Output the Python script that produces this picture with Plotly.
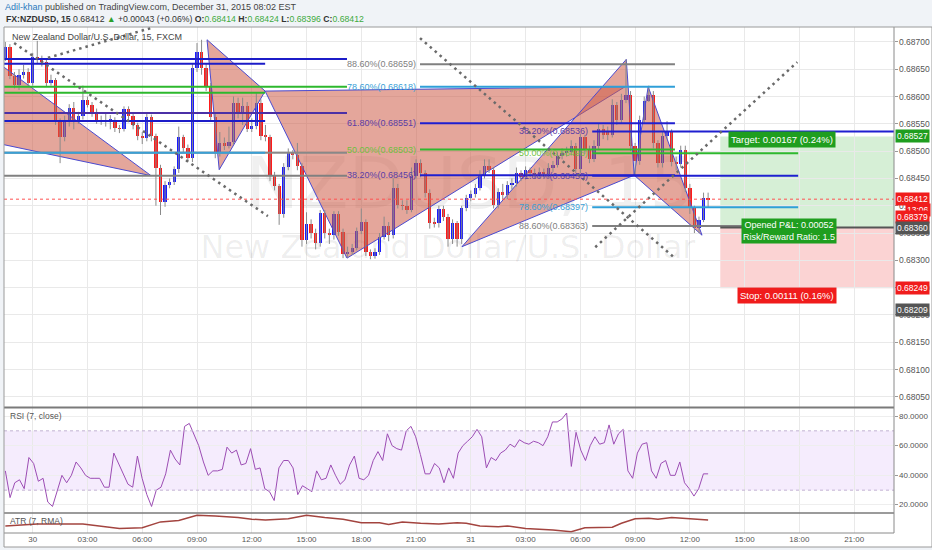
import plotly.graph_objects as go
import pandas as pd

# ---------------- data ----------------
open_ = [0.68671,0.68691,0.68638,0.68621,0.68640,0.68645,0.68625,0.68672,0.68667,0.68663,
         0.68625,0.68630,0.68555,0.68526,0.68555,0.68579,0.68555,0.68564,0.68594,0.68585,
         0.68570,0.68557,0.68555,0.68557,0.68557,0.68542,0.68541,0.68577,0.68564,0.68548,
         0.68528,0.68524,0.68563,0.68528,0.68469,0.68407,0.68438,0.68444,0.68467,0.68526,
         0.68506,0.68487,0.68652,0.68682,0.68652,0.68618,0.68563,0.68498,0.68515,0.68509,
         0.68517,0.68588,0.68570,0.68583,0.68541,0.68546,0.68588,0.68528,0.68526,0.68455,
         0.68436,0.68385,0.68471,0.68497,0.68493,0.68473,0.68337,0.68367,0.68350,0.68332,
         0.68387,0.68350,0.68346,0.68385,0.68352,0.68312,0.68315,0.68323,0.68354,0.68370,
         0.68315,0.68308,0.68315,0.68343,0.68363,0.68346,0.68433,0.68401,0.68400,0.68392,
         0.68455,0.68478,0.68460,0.68423,0.68370,0.68368,0.68394,0.68379,0.68339,0.68368,
         0.68339,0.68396,0.68414,0.68422,0.68433,0.68456,0.68473,0.68466,0.68401,0.68425,
         0.68420,0.68438,0.68442,0.68460,0.68453,0.68466,0.68460,0.68456,0.68462,0.68458,
         0.68469,0.68475,0.68491,0.68497,0.68499,0.68509,0.68467,0.68526,0.68504,0.68486,
         0.68509,0.68541,0.68535,0.68530,0.68585,0.68557,0.68594,0.68603,0.68509,0.68482,
         0.68557,0.68592,0.68603,0.68515,0.68478,0.68528,0.68535,0.68480,0.68476,0.68502,
         0.68433,0.68396,0.68359,0.68374,0.68414]
close = [0.68691,0.68638,0.68621,0.68640,0.68645,0.68625,0.68672,0.68667,0.68663,0.68625,
         0.68630,0.68555,0.68526,0.68555,0.68579,0.68555,0.68564,0.68594,0.68585,0.68570,
         0.68557,0.68555,0.68557,0.68557,0.68542,0.68541,0.68577,0.68564,0.68548,0.68528,
         0.68524,0.68563,0.68528,0.68469,0.68407,0.68438,0.68444,0.68467,0.68526,0.68506,
         0.68487,0.68652,0.68682,0.68652,0.68618,0.68563,0.68498,0.68515,0.68509,0.68517,
         0.68588,0.68570,0.68583,0.68541,0.68546,0.68588,0.68528,0.68526,0.68455,0.68436,
         0.68385,0.68471,0.68497,0.68493,0.68473,0.68337,0.68367,0.68350,0.68332,0.68387,
         0.68350,0.68346,0.68385,0.68352,0.68312,0.68315,0.68323,0.68354,0.68370,0.68315,
         0.68308,0.68315,0.68343,0.68363,0.68346,0.68433,0.68401,0.68400,0.68392,0.68455,
         0.68478,0.68460,0.68423,0.68368,0.68368,0.68394,0.68379,0.68339,0.68368,0.68339,
         0.68396,0.68414,0.68422,0.68433,0.68456,0.68473,0.68466,0.68401,0.68425,0.68420,
         0.68438,0.68442,0.68460,0.68453,0.68466,0.68460,0.68456,0.68462,0.68458,0.68469,
         0.68475,0.68491,0.68497,0.68499,0.68509,0.68467,0.68526,0.68504,0.68486,0.68509,
         0.68541,0.68530,0.68530,0.68585,0.68557,0.68594,0.68603,0.68509,0.68482,0.68557,
         0.68592,0.68603,0.68515,0.68478,0.68528,0.68535,0.68480,0.68476,0.68502,0.68433,
         0.68396,0.68359,0.68374,0.68414,0.68412]
high = [0.68700,0.68696,0.68645,0.68650,0.68658,0.68652,0.68680,0.68702,0.68675,0.68668,
        0.68640,0.68634,0.68560,0.68565,0.68586,0.68590,0.68572,0.68620,0.68600,0.68590,
        0.68578,0.68565,0.68570,0.68566,0.68562,0.68548,0.68582,0.68582,0.68568,0.68552,
        0.68535,0.68568,0.68567,0.68532,0.68475,0.68445,0.68450,0.68472,0.68545,0.68530,
        0.68512,0.68660,0.68698,0.68704,0.68660,0.68625,0.68570,0.68535,0.68525,0.68545,
        0.68600,0.68598,0.68598,0.68590,0.68560,0.68606,0.68595,0.68548,0.68530,0.68462,
        0.68440,0.68478,0.68505,0.68502,0.68515,0.68478,0.68388,0.68375,0.68358,0.68392,
        0.68392,0.68358,0.68390,0.68390,0.68358,0.68325,0.68330,0.68360,0.68395,0.68375,
        0.68320,0.68322,0.68350,0.68380,0.68370,0.68450,0.68440,0.68410,0.68410,0.68470,
        0.68485,0.68485,0.68465,0.68430,0.68378,0.68400,0.68400,0.68385,0.68375,0.68372,
        0.68400,0.68420,0.68428,0.68440,0.68465,0.68485,0.68485,0.68470,0.68432,0.68440,
        0.68445,0.68450,0.68470,0.68465,0.68472,0.68470,0.68468,0.68470,0.68468,0.68478,
        0.68482,0.68498,0.68505,0.68508,0.68520,0.68515,0.68532,0.68530,0.68510,0.68520,
        0.68550,0.68548,0.68545,0.68595,0.68590,0.68605,0.68668,0.68610,0.68515,0.68565,
        0.68600,0.68620,0.68610,0.68520,0.68535,0.68555,0.68540,0.68490,0.68510,0.68510,
        0.68440,0.68400,0.68380,0.68424,0.68424]
low = [0.68665,0.68632,0.68615,0.68612,0.68633,0.68618,0.68620,0.68660,0.68655,0.68618,
       0.68620,0.68548,0.68478,0.68518,0.68545,0.68540,0.68550,0.68558,0.68580,0.68563,
       0.68550,0.68548,0.68545,0.68540,0.68535,0.68533,0.68536,0.68556,0.68540,0.68520,
       0.68513,0.68518,0.68518,0.68400,0.68383,0.68398,0.68432,0.68438,0.68460,0.68498,
       0.68480,0.68480,0.68645,0.68640,0.68610,0.68555,0.68487,0.68490,0.68502,0.68505,
       0.68512,0.68560,0.68548,0.68535,0.68535,0.68540,0.68520,0.68518,0.68445,0.68428,
       0.68365,0.68378,0.68465,0.68485,0.68465,0.68325,0.68330,0.68340,0.68320,0.68325,
       0.68340,0.68330,0.68338,0.68345,0.68304,0.68305,0.68310,0.68318,0.68348,0.68308,
       0.68302,0.68303,0.68310,0.68338,0.68335,0.68340,0.68395,0.68392,0.68385,0.68388,
       0.68450,0.68452,0.68415,0.68358,0.68360,0.68360,0.68372,0.68325,0.68330,0.68325,
       0.68330,0.68390,0.68408,0.68415,0.68428,0.68450,0.68460,0.68395,0.68395,0.68412,
       0.68412,0.68430,0.68435,0.68445,0.68448,0.68452,0.68450,0.68450,0.68450,0.68452,
       0.68462,0.68470,0.68485,0.68490,0.68492,0.68460,0.68460,0.68495,0.68478,0.68480,
       0.68502,0.68522,0.68520,0.68525,0.68548,0.68550,0.68588,0.68500,0.68455,0.68475,
       0.68550,0.68590,0.68505,0.68470,0.68470,0.68522,0.68472,0.68465,0.68470,0.68425,
       0.68385,0.68350,0.68350,0.68370,0.68396]
first_bar = "2015-12-29 22:30"

rsi = [43,25,35,37,31,52,48,36,38,22,19,30,40,35,40,49,45,40,38,38,38,32,32,55,48,40,34,32,
       53,38,27,19,30,32,41,57,51,47,73,75,68,60,49,40,43,43,44,59,55,57,47,48,58,44,45,31,
       29,23,45,50,50,45,27,33,31,29,43,37,38,47,40,34,37,47,53,38,37,40,50,56,50,68,60,58,
       57,70,73,66,54,41,41,48,45,35,45,38,55,60,63,66,71,66,45,52,50,55,57,61,59,64,62,61,
       63,62,60,66,76,76,78,82,46,69,57,50,60,66,61,62,74,61,68,71,43,38,55,61,62,43,38,48,
       50,40,40,49,35,31,26,31,41,41]

atr_idx = [0,7,17,25,30,34,38,42,46,51,54,57,62,66,70,74,78,82,84,87,
           91,95,99,101,104,108,110,114,120,124,127,133,135,138,141,143,146,149,151,154]
atr_val = [0.00036,0.00040,0.00040,0.00030,0.00032,0.00045,0.00048,0.00060,0.00058,0.00055,
           0.00051,0.00049,0.00052,0.00060,0.00055,0.00051,0.00043,0.00043,0.00039,0.00045,
           0.00042,0.00040,0.00043,0.00042,0.00036,0.00034,0.00036,0.00030,0.00027,0.00023,
           0.00032,0.00033,0.00042,0.00052,0.00053,0.00051,0.00055,0.00053,0.00052,0.00049]

tick_times = ["2015-12-30 00:00","2015-12-30 03:00","2015-12-30 06:00","2015-12-30 09:00",
              "2015-12-30 12:00","2015-12-30 15:00","2015-12-30 18:00","2015-12-30 21:00",
              "2015-12-31 00:00","2015-12-31 03:00","2015-12-31 06:00","2015-12-31 09:00",
              "2015-12-31 12:00","2015-12-31 15:00","2015-12-31 18:00","2015-12-31 21:00"]
tick_text = ["30","03:00","06:00","09:00","12:00","15:00","18:00","21:00",
             "31","03:00","06:00","09:00","12:00","15:00","18:00","21:00"]
price_ticks = [0.6805,0.6810,0.6815,0.6820,0.6825,0.6830,0.6835,0.6840,0.6845,0.6850,
               0.6855,0.6860,0.6865,0.6870]
rsi_ticks = [20,40,60,80]

# harmonic patterns (time, price) of X, A, B, C, D
p0_t = ["2015-12-29 21:07","2015-12-30 06:29","2015-12-29 21:07"]
p0_p = [0.68686,0.68455,0.68521]
p1_t = ["2015-12-30 09:33","2015-12-30 10:13","2015-12-30 12:44","2015-12-30 17:13","2015-12-31 08:27"]
p1_p = [0.68704,0.68466,0.68610,0.68304,0.68618]
p2_t = ["2015-12-30 23:31","2015-12-31 08:31","2015-12-31 08:57","2015-12-31 09:43","2015-12-31 12:40"]
p2_p = [0.68325,0.68668,0.68456,0.68618,0.68346]

# dotted trend lines
dotted_lines = [
    (["2015-12-29 22:59","2015-12-30 12:53"],[0.68698,0.68381]),
    (["2015-12-30 00:50","2015-12-30 06:32"],[0.68671,0.68726]),
    (["2015-12-30 21:13","2015-12-31 11:11"],[0.68707,0.68304]),
    (["2015-12-31 06:49","2015-12-31 17:53"],[0.68324,0.68663]),
]

# horizontal segments on the left
left_end_1 = "2015-12-30 17:13"
left_prices_1 = [0.68669,0.68618,0.68570,0.68497,0.68455]
left_colors_1 = ["#1c1cc8","#2db82d","#4b30a6","#888888","#808080"]
left_end_2 = "2015-12-30 12:44"
left_prices_2 = [0.68660,0.68607,0.68555,0.68497]
left_colors_2 = ["#1c1cc8","#2db82d","#1c1cc8","#39a0d6"]

fib_mid_span = ["2015-12-30 21:13","2015-12-31 11:11"]
fib_mid_levels = ["88.60%","78.60%","61.80%","50.00%","38.20%"]
fib_mid_prices = [0.68659,0.68618,0.68551,0.68503,0.68456]
fib_right_span = ["2015-12-31 06:39","2015-12-31 17:56"]
fib_right_levels = ["38.20%","50.00%","61.80%","78.60%","88.60%"]
fib_right_prices = [0.68536,0.68496,0.68455,0.68397,0.68363]
line_col = {"88.60%":"#808080","78.60%":"#2f9fd8","61.80%":"#1f1fd0","50.00%":"#2fb82f","38.20%":"#1f1fd0"}
text_col = {"88.60%":"#808080","78.60%":"#3a9fd6","61.80%":"#5a3da6","50.00%":"#6fbf3f","38.20%":"#5a3da6"}

current_price = 0.68412
pos_start = "2015-12-31 13:40"
entry, target, stop = 0.68360, 0.68527, 0.68249

x_range = ["2015-12-29 22:25:36","2015-12-31 23:11:00"]

# ---------------- layout helpers (pixel -> paper) ----------------
W, H = 932, 550
L, R, T, B = 4, 38, 27, 17
PW, PH = W - L - R, H - T - B
def px(x): return (x - L) / PW
def py(y): return (H - B - y) / PH

times = pd.date_range(first_bar, periods=len(close), freq="15min")
FONT = "Liberation Sans"

fig = go.Figure()

# watermark (behind everything)
fig.add_trace(go.Scatter(x=[pd.Timestamp("2015-12-30 23:58")], y=[0.68429], mode="text",
                         text=["NZDUSD, 15"], textfont=dict(size=72, family="DejaVu Sans", color="rgba(0,0,0,0.06)"),
                         hoverinfo="skip"))
fig.add_trace(go.Scatter(x=[pd.Timestamp("2015-12-30 22:45")], y=[0.68319], mode="text",
                         text=["New Zealand Dollar/U.S. Dollar"], textfont=dict(size=32, family="DejaVu Sans", color="rgba(0,0,0,0.07)"),
                         hoverinfo="skip"))

# harmonic pattern triangles
FILL = "rgba(205,92,72,0.55)"
EDGE = "#4a4ad0"
def tri(ts, ps):
    fig.add_trace(go.Scatter(x=list(ts) + [ts[0]], y=list(ps) + [ps[0]], mode="lines", fill="toself",
                             fillcolor=FILL, line=dict(color=EDGE, width=1), hoverinfo="skip"))
tri(p0_t, p0_p)
for pt, pp in ((p1_t, p1_p), (p2_t, p2_p)):
    tri(pt[0:3], pp[0:3])
    tri(pt[2:5], pp[2:5])

# candles: wicks then bodies
wx, wy = [], []
for t, h, l in zip(times, high, low):
    wx += [t, t, None]
    wy += [l, h, None]
fig.add_trace(go.Scatter(x=wx, y=wy, mode="lines", line=dict(color="#8a8a8a", width=1), hoverinfo="skip"))
bases = [min(o, c) for o, c in zip(open_, close)]
heights = [max(abs(c - o), 0.000007) for o, c in zip(open_, close)]
colors = ["#1a1aff" if c >= o else "#ff1a1a" for o, c in zip(open_, close)]
fig.add_trace(go.Bar(x=times, y=heights, base=bases, width=650000, marker=dict(color=colors, line=dict(width=0)),
                     hoverinfo="skip"))

# left horizontal segments
for p, c in zip(left_prices_1, left_colors_1):
    fig.add_trace(go.Scatter(x=["2015-12-29 20:00", left_end_1], y=[p, p], mode="lines",
                             line=dict(color=c, width=2), hoverinfo="skip"))
for p, c in zip(left_prices_2, left_colors_2):
    fig.add_trace(go.Scatter(x=["2015-12-29 20:00", left_end_2], y=[p, p], mode="lines",
                             line=dict(color=c, width=2), hoverinfo="skip"))

# fib retracement sets
annotations = []
for span, levels, prices in ((fib_mid_span, fib_mid_levels, fib_mid_prices),
                             (fib_right_span, fib_right_levels, fib_right_prices)):
    for lv, p in zip(levels, prices):
        x1 = span[1]
        if span is fib_right_span and lv == "38.20%":
            x1 = x_range[1]
        fig.add_trace(go.Scatter(x=[span[0], x1], y=[p, p], mode="lines",
                                 line=dict(color=line_col[lv], width=2), hoverinfo="skip"))
        annotations.append(dict(x=span[0], y=p, xref="x", yref="y", text=f"{lv}({p:.5f})",
                                showarrow=False, xanchor="right", yanchor="middle", xshift=-2,
                                font=dict(size=9, family=FONT, color=text_col[lv])))

# entry line of the long position
fig.add_trace(go.Scatter(x=[pos_start, x_range[1]], y=[entry, entry], mode="lines",
                         line=dict(color="#555555", width=2), hoverinfo="skip"))

# dotted trend lines
for xs, ys in dotted_lines:
    fig.add_trace(go.Scatter(x=xs, y=ys, mode="lines",
                             line=dict(color="#6a6a6a", width=2.5, dash="2.5px,4px"), hoverinfo="skip"))

# RSI pane
rsi_times = pd.date_range(times[0], times[-1], periods=len(rsi))
fig.add_trace(go.Scatter(x=rsi_times, y=rsi, xaxis="x2", yaxis="y2", mode="lines",
                         line=dict(color="#9c4db4", width=1), hoverinfo="skip"))
# ATR pane
fig.add_trace(go.Scatter(x=[times[i] for i in atr_idx], y=atr_val, xaxis="x3", yaxis="y3", mode="lines",
                         line=dict(color="#a3443f", width=1.5), hoverinfo="skip"))

shapes = [
    dict(type="rect", xref="paper", yref="paper", x0=px(4), x1=px(932), y0=py(547), y1=1,
         fillcolor="white", line=dict(width=0), layer="below"),
    dict(type="rect", xref="paper", yref="y2", x0=0, x1=1, y0=30, y1=70,
         fillcolor="rgba(175,110,240,0.13)", line=dict(width=0), layer="below"),
    dict(type="line", xref="paper", yref="y2", x0=0, x1=1, y0=70, y1=70,
         line=dict(color="#c2b2d2", width=1, dash="dot")),
    dict(type="line", xref="paper", yref="y2", x0=0, x1=1, y0=30, y1=30,
         line=dict(color="#c2b2d2", width=1, dash="dot")),
    dict(type="rect", xref="x", yref="y", x0=pos_start, x1=x_range[1], y0=entry, y1=target,
         fillcolor="#d6efd6", line=dict(width=0), layer="below"),
    dict(type="rect", xref="x", yref="y", x0=pos_start, x1=x_range[1], y0=stop, y1=entry,
         fillcolor="#fbd3d3", line=dict(width=0), layer="below"),
    dict(type="line", xref="paper", yref="y", x0=0, x1=1, y0=current_price, y1=current_price,
         line=dict(color="#ff5050", width=1, dash="dot")),
    # pane frames
    dict(type="line", xref="paper", yref="paper", x0=0, x1=1, y0=py(407.5), y1=py(407.5),
         line=dict(color="#7a7a7a", width=2)),
    dict(type="line", xref="paper", yref="paper", x0=0, x1=1, y0=py(513), y1=py(513),
         line=dict(color="#7a7a7a", width=1.5)),
    dict(type="line", xref="paper", yref="paper", x0=0, x1=1, y0=0, y1=0,
         line=dict(color="#8a8a8a", width=1)),
    dict(type="line", xref="paper", yref="paper", x0=1, x1=1, y0=0, y1=1,
         line=dict(color="#8a8a8a", width=1)),
    dict(type="rect", xref="paper", yref="paper", x0=0, x1=px(932), y0=py(547), y1=1,
         line=dict(color="#9a9a9a", width=1)),
]

AX = dict(size=8.5, family=FONT, color="#555")
# price axis labels
for v in price_ticks:
    annotations.append(dict(xref="paper", yref="y", x=1, y=v, text=f"{v:.5f}", showarrow=False,
                            xanchor="left", xshift=3, font=AX))
for v in rsi_ticks:
    annotations.append(dict(xref="paper", yref="y2", x=1, y=v, text=f"{v:.4f}", showarrow=False,
                            xanchor="left", xshift=3, font=dict(size=8, family=FONT, color="#555")))

# long position labels
annotations += [
    dict(xref="paper", yref="paper", x=px(836), y=py(131), text="Target: 0.00167 (0.24%)", showarrow=False,
         bgcolor="#1f9e1f", borderpad=2, font=dict(size=9.5, family=FONT, color="white")),
    dict(xref="paper", yref="paper", x=px(837), y=py(231), text="Opened P&L: 0.00052<br>Risk/Reward Ratio: 1.5",
         showarrow=False, bgcolor="#1f9e1f", borderpad=1, font=dict(size=9, family=FONT, color="white")),
    dict(xref="paper", yref="paper", x=px(837), y=py(295), text="Stop: 0.00111 (0.16%)", showarrow=False,
         bgcolor="#f01c1c", borderpad=2, font=dict(size=9.5, family=FONT, color="white")),
]
# price tags on the right axis
tags = [(0.68527, "0.68527", "#1f9e1f"), (0.68412, "0.68412", "#f01c1c"), (0.68392, "13:06", "#f01c1c"),
        (0.68379, "0.68379", "#f01c1c"), (0.68360, "0.68360", "#555555"), (0.68249, "0.68249", "#f01c1c"),
        (0.68209, "0.68209", "#555555")]
for yv, txt, col in tags:
    if txt == "13:06":
        annotations.append(dict(xref="paper", yref="y", x=px(931), y=yv, text=txt, showarrow=False,
                                xanchor="right", bgcolor=col, borderpad=1,
                                font=dict(size=8.5, family=FONT, color="white")))
    else:
        annotations.append(dict(xref="paper", yref="y", x=1, y=yv, text=txt, showarrow=False,
                                xanchor="left", xshift=1, bgcolor=col, borderpad=1,
                                font=dict(size=8.5, family=FONT, color="white")))

# header + titles
annotations += [
    dict(xref="paper", yref="paper", x=px(3), y=py(7), xanchor="left", yanchor="middle", showarrow=False,
         text="<span style='color:#2b79bd'>Adil-khan</span> published on TradingView.com, December 31, 2015 08:02 EST",
         font=dict(size=9, family=FONT, color="#444")),
    dict(xref="paper", yref="paper", x=px(4), y=py(19), xanchor="left", yanchor="middle", showarrow=False,
         text=("<b>FX:NZDUSD, 15</b> 0.68412 <span style='color:#2ca02c'>▲</span> +0.00043 (+0.06%) "
               "<b>O:</b><span style='color:#3daa3d'>0.68414</span> <b>H:</b><span style='color:#3daa3d'>0.68424</span> "
               "<b>L:</b><span style='color:#3daa3d'>0.68396</span> <b>C:</b><span style='color:#3daa3d'>0.68412</span>"),
         font=dict(size=8.7, family=FONT, color="#333")),
    dict(xref="paper", yref="paper", x=px(10), y=py(37), xanchor="left", yanchor="middle", showarrow=False,
         text="New Zealand Dollar/U.S. Dollar, 15, FXCM", font=dict(size=9, family=FONT, color="#444")),
    dict(xref="paper", yref="paper", x=px(8), y=py(416), xanchor="left", yanchor="middle", showarrow=False,
         text="RSI (7, close)", font=dict(size=8.5, family=FONT, color="#555")),
    dict(xref="paper", yref="paper", x=px(8), y=py(521), xanchor="left", yanchor="middle", showarrow=False,
         text="ATR (7, RMA)", font=dict(size=8.5, family=FONT, color="#555")),
]

GRID = "#e9e9e9"
xcommon = dict(range=x_range, tickvals=tick_times, showgrid=True, gridcolor=GRID, zeroline=False,
               showline=False, ticks="", type="date")
fig.update_layout(
    width=W, height=H, margin=dict(l=L, r=R, t=T, b=B),
    paper_bgcolor="#f0f3f7", plot_bgcolor="white", showlegend=False, hovermode=False,
    bargap=0, font=dict(family=FONT, size=9, color="#555"),
    xaxis=dict(xcommon, anchor="y", showticklabels=False, domain=[0, 1]),
    xaxis2=dict(xcommon, anchor="y2", matches="x", showticklabels=False, domain=[0, 1]),
    xaxis3=dict(xcommon, anchor="y3", matches="x", showticklabels=True, ticktext=tick_text,
                tickfont=dict(size=8, family=FONT, color="#555"), domain=[0, 1]),
    yaxis=dict(domain=[py(407), 1], range=[0.680313, 0.687274], side="right", tickvals=price_ticks,
               showticklabels=False, ticks="outside", ticklen=3, tickcolor="#999",
               showgrid=True, gridcolor=GRID, zeroline=False),
    yaxis2=dict(domain=[py(513), py(408)], range=[14.6, 85.4], side="right", tickvals=rsi_ticks,
                showticklabels=False, ticks="outside", ticklen=3, tickcolor="#999",
                showgrid=True, gridcolor="#eeeeee", zeroline=False),
    yaxis3=dict(domain=[0, py(513)], range=[0.0002, 0.00065], showticklabels=False, showgrid=False,
                zeroline=False, ticks=""),
    shapes=shapes, annotations=annotations,
)

fig.write_html("out.html", config={"displayModeBar": False},
               post_script="document.body.style.margin='0';")
